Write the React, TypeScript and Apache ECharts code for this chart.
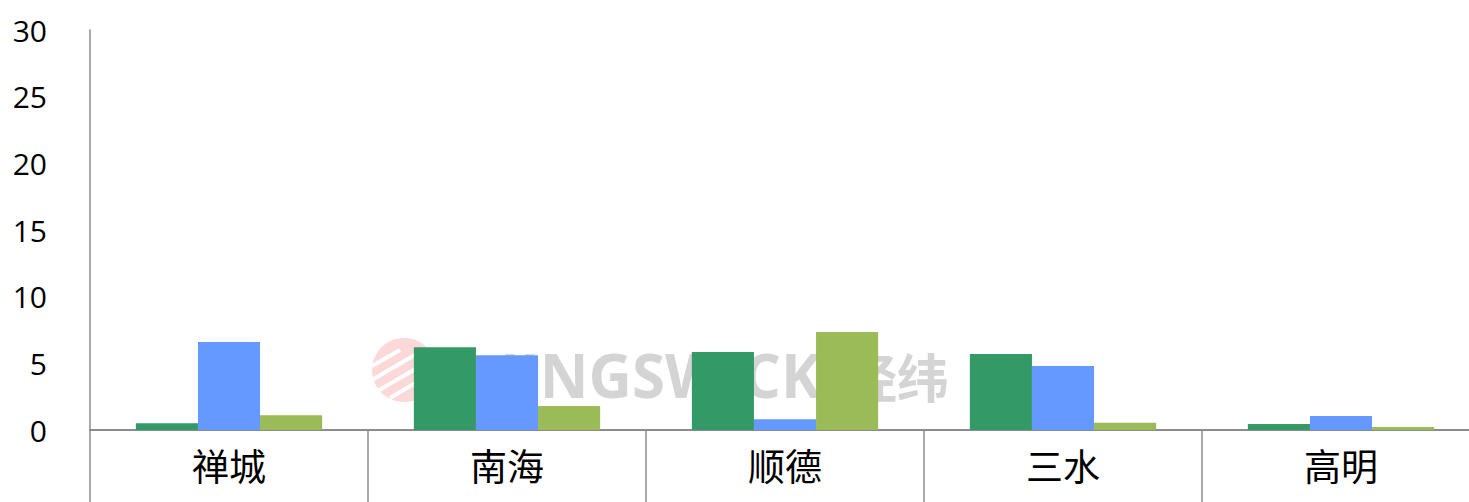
import React, { useEffect, useRef } from "react";
import * as echarts from "echarts";

const categories = ["禅城", "南海", "顺德", "三水", "高明"];
const seriesA = [0.5, 6.2, 5.85, 5.7, 0.45];
const seriesB = [6.6, 5.6, 0.8, 4.8, 1.05];
const seriesC = [1.1, 1.8, 7.35, 0.55, 0.22];
const yTicks = { min: 0, max: 30, interval: 5 };

export default function App() {
  const ref = useRef<HTMLDivElement>(null);
  useEffect(() => {
    if (!ref.current) return;
    const chart = echarts.init(ref.current, null, { renderer: "svg" });
    const W = 1520;
    const H = 560;
    chart.setOption({
      animation: false,
      backgroundColor: "#ffffff",
      graphic: [
        { type: "circle", shape: { cx: 404, cy: 370, r: 32 }, style: { fill: "#FCD8D8" }, z: 0 },
        { type: "line", shape: { x1: 372, y1: 366, x2: 400, y2: 350 }, style: { stroke: "#ffffff", lineWidth: 4 }, z: 0 },
        { type: "line", shape: { x1: 372, y1: 380, x2: 420, y2: 352 }, style: { stroke: "#ffffff", lineWidth: 4 }, z: 0 },
        { type: "line", shape: { x1: 376, y1: 392, x2: 424, y2: 364 }, style: { stroke: "#ffffff", lineWidth: 4 }, z: 0 },
        { type: "line", shape: { x1: 390, y1: 398, x2: 424, y2: 378 }, style: { stroke: "#ffffff", lineWidth: 4 }, z: 0 },
        {
          type: "text",
          x: 500,
          y: 375,
          z: 0,
          style: {
            text: "JINGSWICK",
            fill: "#D4D4D4",
            font: "bold 60px 'Open Sans', sans-serif",
            verticalAlign: "middle",
          },
        },
        {
          type: "text",
          x: 845,
          y: 375,
          z: 0,
          style: {
            text: "经纬",
            fill: "#D4D4D4",
            font: "bold 52px 'Noto Sans CJK SC', sans-serif",
            verticalAlign: "middle",
          },
        },
      ],
      grid: { left: 90, top: 30, right: W - 1480, bottom: H - 430 },
      xAxis: {
        type: "category",
        data: categories,
        axisLine: { lineStyle: { color: "#8C8C8C", width: 2 } },
        axisTick: { show: true, length: 90, lineStyle: { color: "#8C8C8C", width: 1.5 } },
        axisLabel: {
          color: "#000000",
          fontSize: 37,
          margin: 16,
          fontFamily: "'Noto Sans CJK SC', sans-serif",
        },
      },
      yAxis: {
        type: "value",
        min: yTicks.min,
        max: yTicks.max,
        interval: yTicks.interval,
        splitLine: { show: false },
        axisLine: { show: true, lineStyle: { color: "#8C8C8C", width: 1.5 } },
        axisTick: { show: false },
        axisLabel: {
          color: "#000000",
          fontSize: 30,
          margin: 43,
          fontFamily: "'Open Sans', sans-serif",
        },
      },
      series: [
        { type: "bar", data: seriesA, itemStyle: { color: "#339966" }, barGap: "0%", barCategoryGap: "33%" },
        { type: "bar", data: seriesB, itemStyle: { color: "#6699FF" }, barGap: "0%", barCategoryGap: "33%" },
        { type: "bar", data: seriesC, itemStyle: { color: "#9BBB59" }, barGap: "0%", barCategoryGap: "33%" },
      ],
    });
    return () => chart.dispose();
  }, []);
  return (
    <div style={{ position: "fixed", left: 0, top: 0, width: 1469, height: 502, overflow: "hidden", background: "#fff" }}>
      <div ref={ref} style={{ width: 1520, height: 560 }} />
    </div>
  );
}
